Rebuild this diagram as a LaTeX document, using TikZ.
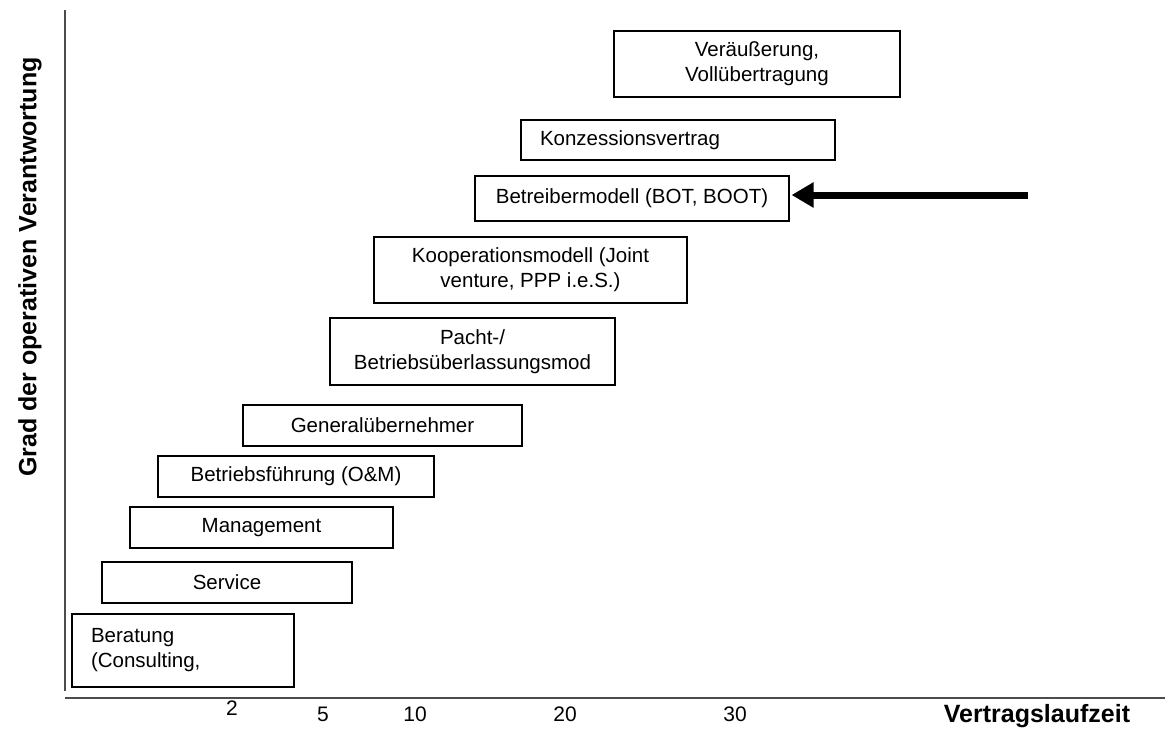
\documentclass[tikz,border=0pt]{standalone}
\usepackage{fontspec}
\setmainfont{Liberation Sans}
\usetikzlibrary{arrows.meta}
\tikzset{
  box/.style={draw=black, line width=1.1pt, inner sep=0pt, align=center,
    font=\fontsize{20.5}{25}\selectfont},
  axis/.style={draw=black!70, line width=1.4pt},
  tick/.style={font=\fontsize{21}{25}\selectfont, inner sep=0pt},
  axlabel/.style={font=\fontsize{25}{30}\selectfont\bfseries, inner sep=0pt}
}
\newcommand{\mybox}[6]{% name, x1, y1, x2, y2, text
  \node[box, minimum width={#4-#2}, minimum height={#5-#3}] (#1) at ({(#2+#4)/2},{(#3+#5)/2}) {#6};}
\begin{document}
\begin{tikzpicture}[x=1pt,y=-1pt]
\useasboundingbox (0,0) rectangle (1165,729);
% axes
\coordinate (vtop) at (65,10);
\coordinate (vbot) at (65,691);
\coordinate (hl) at (65,698);
\coordinate (hr) at (1165,698);
\draw[axis] (vtop) -- (vbot);
\draw[axis] (hl) -- (hr);
\node[axlabel, rotate=90] (ylab) at (30,267) {Grad der operativen Verantwortung};
\node[axlabel] (xlab) at (1037,716) {Vertragslaufzeit};
\node[tick] (t2) at (232,708) {2};
\node[tick] (t5) at (323,714) {5};
\node[tick] (t10) at (415,714) {10};
\node[tick] (t20) at (565,714) {20};
\node[tick] (t30) at (735,714) {30};
% boxes
\node[box, minimum width=222pt, minimum height=73pt, text width=184pt, inner xsep=19pt, align=left] (b1) at (183,650.5) {Beratung\\(Consulting,};
\mybox{b2}{102}{562}{352}{603}{Service}
\mybox{b3}{130}{507}{393}{548}{Management}
\mybox{b4}{158}{456}{434}{497}{Betriebsführung (O\&M)}
\mybox{b5}{243}{405}{522}{446}{Generalübernehmer}
\mybox{b6}{330}{318}{615}{385}{Pacht-/\\Betriebsüberlassungsmod}
\mybox{b7}{374}{237}{687}{303}{Kooperationsmodell (Joint\\venture, PPP i.e.S.)}
\mybox{b8}{475}{176}{789}{221}{Betreibermodell (BOT, BOOT)}
\node[box, minimum width=314pt, minimum height=40pt, text width=276pt, inner xsep=19pt, align=left] (b9) at (678,140) {Konzessionsvertrag};
\mybox{b10}{614}{31}{900}{97}{Veräußerung,\\Vollübertragung}
% arrow
\coordinate (astart) at (1028,195);
\draw[line width=7pt, -{Triangle[length=22pt,width=24pt]}] (astart) -- ([xshift=2pt]b8.east |- astart);
\end{tikzpicture}
\end{document}
